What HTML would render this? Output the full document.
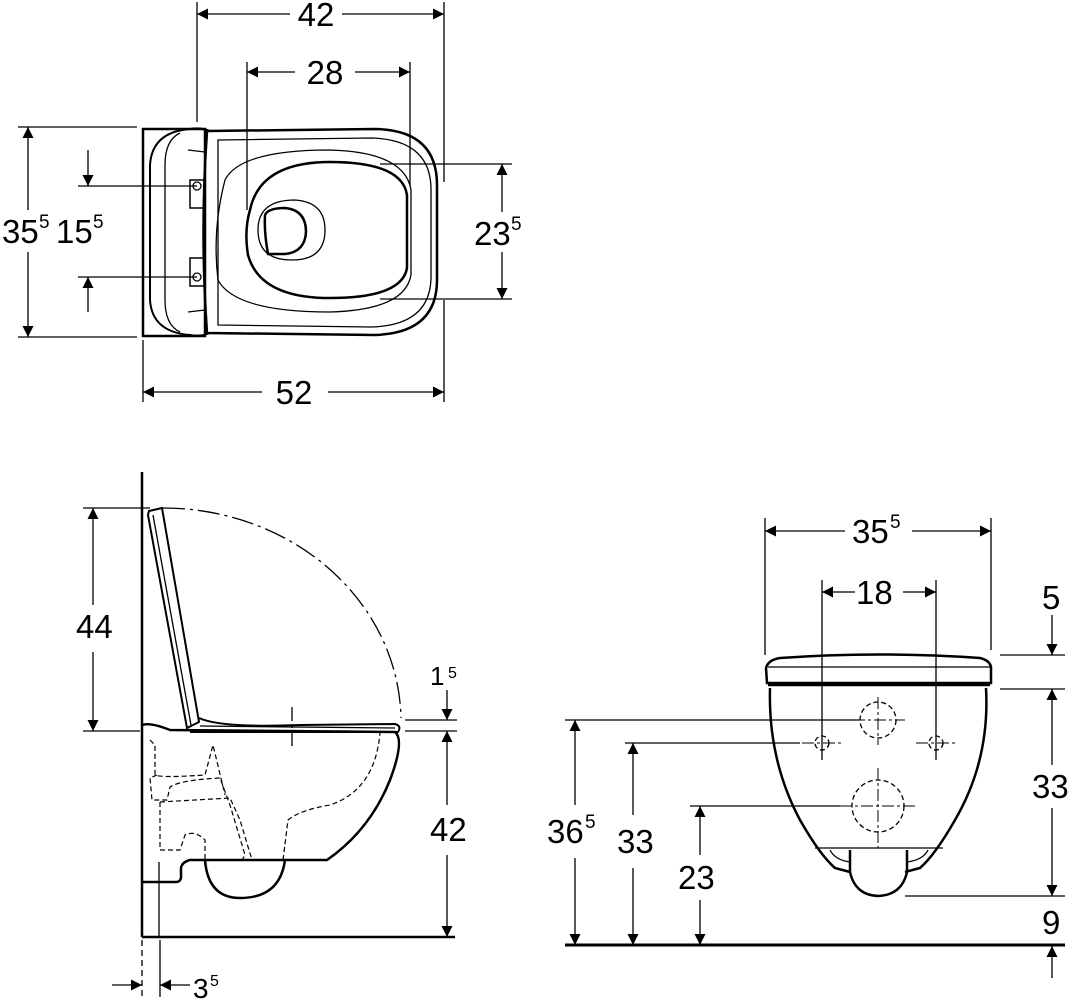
<!DOCTYPE html>
<html><head><meta charset="utf-8"><style>
html,body{margin:0;padding:0;background:#fff;}
svg{display:block;}
text{font-family:"Liberation Sans",Arial,sans-serif;fill:#000;}
.n{font-size:33px;}
.s{font-size:19px;}
</style></head><body>
<svg width="1075" height="1000" viewBox="0 0 1075 1000" xmlns="http://www.w3.org/2000/svg">
<defs>
<marker id="a" viewBox="0 0 10 10" refX="10" refY="5" markerWidth="11" markerHeight="11" markerUnits="userSpaceOnUse" orient="auto-start-reverse"><path d="M0,0 L10,5 L0,10 z" fill="#000"/></marker>
</defs>
<g stroke="#000" fill="none" stroke-width="1.3">
<!-- ===== TOP VIEW ===== -->
<!-- ext lines -->
<line x1="197" y1="2" x2="197" y2="122"/>
<line x1="444" y1="2" x2="444" y2="182"/>
<line x1="247" y1="62" x2="247" y2="210"/>
<line x1="410" y1="62" x2="410" y2="186"/>
<line x1="18" y1="127" x2="137" y2="127"/>
<line x1="18" y1="337" x2="137" y2="337"/>
<line x1="78" y1="186" x2="197" y2="186"/>
<line x1="78" y1="277" x2="197" y2="277"/>
<line x1="380" y1="164" x2="512" y2="164"/>
<line x1="380" y1="299" x2="512" y2="299"/>
<line x1="143" y1="340" x2="143" y2="402"/>
<line x1="444" y1="300" x2="444" y2="402"/>
<!-- dims -->
<line x1="197" y1="14" x2="290" y2="14" marker-start="url(#a)"/>
<line x1="342" y1="14" x2="444" y2="14" marker-end="url(#a)"/>
<line x1="247" y1="72" x2="295" y2="72" marker-start="url(#a)"/>
<line x1="355" y1="72" x2="410" y2="72" marker-end="url(#a)"/>
<line x1="28" y1="127" x2="28" y2="210" marker-start="url(#a)"/>
<line x1="28" y1="252" x2="28" y2="337" marker-end="url(#a)"/>
<line x1="88" y1="150" x2="88" y2="186" marker-end="url(#a)"/>
<line x1="88" y1="312" x2="88" y2="277" marker-end="url(#a)"/>
<line x1="502" y1="164" x2="502" y2="212" marker-start="url(#a)"/>
<line x1="502" y1="252" x2="502" y2="299" marker-end="url(#a)"/>
<line x1="143" y1="392" x2="262" y2="392" marker-start="url(#a)"/>
<line x1="328" y1="392" x2="444" y2="392" marker-end="url(#a)"/>
<!-- toilet top -->
<rect x="143" y="129" width="62" height="207" stroke-width="2.5"/>
<path d="M210 131 Q200 127 190 129 Q152 132 150 165 L150 300 Q152 332 190 335 Q200 337 210 333" stroke-width="2"/>
<path d="M180 133 Q165 140 165 165 L165 300 Q165 325 180 332"/>
<path d="M207 131 L375 129 Q437 130 437 185 L437 280 Q437 333 375 335 L207 333 Q200 232 207 131 Z" stroke-width="2.5"/>
<path d="M218 140 L372 138 Q430 140 431 188 L431 278 Q430 325 372 327 L218 325 Z"/>
<path d="M225 180 Q240 150 330 150 Q405 152 411 190 L411 275 Q405 310 330 312 Q235 312 218 280 Q212 230 225 180 Z"/>
<path d="M250 210 Q260 162 330 162 Q402 162 407 195 L407 268 Q402 298 330 298 Q260 298 248 255 Q244 230 250 210 Z" stroke-width="2.5"/>
<path d="M258 230 Q258 200 295 200 Q325 202 325 230 Q325 260 292 260 Q258 260 258 230 Z"/>
<path d="M265 215 Q268 208 285 208 Q306 210 306 232 Q305 252 285 254 L268 254 Q264 232 265 215 Z" stroke-width="2.5"/>
<rect x="190" y="180" width="15" height="28" stroke-width="1.5"/>
<rect x="190" y="258" width="15" height="28" stroke-width="1.5"/>
<circle cx="197" cy="186" r="4"/><circle cx="197" cy="277" r="4"/>
<path d="M188 150 L205 152 M188 312 L205 310"/>

<!-- ===== SIDE VIEW ===== -->
<line x1="142" y1="472" x2="142" y2="937" stroke-width="2.5"/>
<line x1="142" y1="937" x2="455" y2="937" stroke-width="2.5"/>
<line x1="83" y1="508" x2="150" y2="508"/>
<line x1="83" y1="731" x2="140" y2="731"/>
<line x1="405" y1="731" x2="457" y2="731"/>
<line x1="405" y1="720" x2="457" y2="720"/>
<line x1="93" y1="508" x2="93" y2="605" marker-start="url(#a)"/>
<line x1="93" y1="652" x2="93" y2="731" marker-end="url(#a)"/>
<line x1="447" y1="690" x2="447" y2="720" marker-end="url(#a)"/>
<line x1="447" y1="731" x2="447" y2="805" marker-start="url(#a)"/>
<line x1="447" y1="855" x2="447" y2="937" marker-end="url(#a)"/>
<line x1="160" y1="940" x2="160" y2="997"/>
<line x1="142" y1="940" x2="142" y2="997" stroke-dasharray="6 4"/>
<line x1="112" y1="985" x2="142" y2="985" marker-end="url(#a)"/>
<line x1="190" y1="985" x2="160" y2="985" marker-end="url(#a)"/>
<path d="M163 508 A238 214 0 0 1 401 718" stroke-dasharray="22 5 3 5"/>
<line x1="292" y1="707" x2="292" y2="748" stroke-dasharray="14 4 3 4"/>
<!-- lid -->
<path d="M148 515 L149 511 L162 508 L199 722 L187 728 Z" stroke-width="2"/>
<line x1="153" y1="515" x2="191" y2="725"/>
<!-- seat -->
<path d="M199 718 Q220 728 300 725 L395 724 Q402 726 398 732 L190 732" stroke-width="2"/>
<path d="M200 726 L395 728"/>
<!-- bowl -->
<path d="M142 725 Q150 722 170 730 L395 732 Q405 740 390 780 Q370 830 327 860 L190 860 Q182 862 181 868 L181 878 Q180 882 176 882 L142 882" stroke-width="2.5"/>
<path d="M205 860 Q208 898 240 898 Q280 898 285 860" stroke-width="2.5"/>
<g stroke-dasharray="5 3" stroke-width="1.2">
<path d="M150 740 L155 745 L155 775 Q160 778 205 775 L213 745 L225 795 M157 775 L150 778 L150 778 L152 800 L167 800 L170 787 Q180 780 220 778 L230 805 L245 855 L242 860"/>
<path d="M160 802 L230 798 L240 820 L252 860 M160 802 L160 850 L180 850 L185 835 Q195 830 205 840 L205 860"/>
<path d="M283 860 L288 820 Q300 810 330 805 Q375 790 380 733"/>
</g>
<line x1="159" y1="862" x2="159" y2="937"/>

<!-- ===== FRONT VIEW ===== -->
<line x1="565" y1="945" x2="1065" y2="945" stroke-width="3"/>
<line x1="765" y1="518" x2="765" y2="655"/>
<line x1="991" y1="518" x2="991" y2="650"/>
<line x1="822" y1="580" x2="822" y2="760"/>
<line x1="936" y1="580" x2="936" y2="760"/>
<line x1="765" y1="531" x2="845" y2="531" marker-start="url(#a)"/>
<line x1="912" y1="531" x2="991" y2="531" marker-end="url(#a)"/>
<line x1="822" y1="592" x2="855" y2="592" marker-start="url(#a)"/>
<line x1="903" y1="592" x2="936" y2="592" marker-end="url(#a)"/>
<line x1="1000" y1="655" x2="1065" y2="655"/>
<line x1="1000" y1="689" x2="1065" y2="689"/>
<line x1="905" y1="896" x2="1065" y2="896"/>
<line x1="1052" y1="615" x2="1052" y2="655" marker-end="url(#a)"/>
<line x1="1052" y1="689" x2="1052" y2="765" marker-start="url(#a)"/>
<line x1="1052" y1="808" x2="1052" y2="896" marker-end="url(#a)"/>
<line x1="1052" y1="978" x2="1052" y2="946" marker-end="url(#a)"/>
<line x1="565" y1="720" x2="860" y2="720"/>
<line x1="625" y1="743" x2="800" y2="743"/>
<line x1="690" y1="806" x2="840" y2="806"/>
<line x1="575" y1="720" x2="575" y2="805" marker-start="url(#a)"/>
<line x1="575" y1="858" x2="575" y2="945" marker-end="url(#a)"/>
<line x1="633" y1="743" x2="633" y2="815" marker-start="url(#a)"/>
<line x1="633" y1="868" x2="633" y2="945" marker-end="url(#a)"/>
<line x1="700" y1="806" x2="700" y2="855" marker-start="url(#a)"/>
<line x1="700" y1="900" x2="700" y2="945" marker-end="url(#a)"/>
<!-- seat/lid -->
<path d="M767 683 L766 668 Q768 660 780 658 Q878 651 980 658 Q992 661 991 670 L991 683 Z" stroke-width="2.5"/>
<line x1="768" y1="667" x2="990" y2="667"/>
<line x1="768" y1="685" x2="990" y2="685" stroke-width="2.5"/>
<path d="M770 688 Q768 760 800 820 Q820 855 835 868 L850 872 M986 688 Q990 760 955 820 Q935 855 920 868 L905 872" stroke-width="2.5"/>
<path d="M850 850 L850 872 Q855 895 878 896 Q902 895 907 872 L907 850" stroke-width="2.5"/>
<line x1="815" y1="848" x2="943" y2="848"/>
<path d="M830 850 Q835 860 850 862 M928 850 Q923 860 907 862"/>
<g stroke-dasharray="5 3">
<circle cx="878" cy="720" r="18"/>
<circle cx="822" cy="743" r="7"/>
<circle cx="936" cy="743" r="7"/>
<circle cx="878" cy="806" r="26"/>
</g>
<g stroke-dasharray="12 3 3 3" stroke-width="1">
<line x1="853" y1="720" x2="905" y2="720"/><line x1="878" y1="697" x2="878" y2="745"/>
<line x1="802" y1="743" x2="842" y2="743"/><line x1="916" y1="743" x2="956" y2="743"/>
<line x1="840" y1="806" x2="918" y2="806"/><line x1="878" y1="768" x2="878" y2="848"/>
</g>
</g>
<!-- ===== TEXT ===== -->
<text class="n" x="316" y="26" text-anchor="middle">42</text>
<text class="n" x="325" y="84" text-anchor="middle">28</text>
<text class="n" x="2" y="243">35</text><text class="s" x="39" y="228">5</text>
<text class="n" x="56" y="243">15</text><text class="s" x="93" y="228">5</text>
<text class="n" x="474" y="245">23</text><text class="s" x="511" y="230">5</text>
<text class="n" x="294" y="404" text-anchor="middle">52</text>
<text class="n" x="76" y="638">44</text>
<text class="n" x="430" y="841">42</text>
<text class="n" x="430" y="685" style="font-size:26px">1</text><text class="s" x="448" y="678" style="font-size:16px">5</text>
<text class="n" x="193" y="998" style="font-size:28px">3</text><text class="s" x="210" y="986" style="font-size:16px">5</text>
<text class="n" x="852" y="543">35</text><text class="s" x="890" y="528">5</text>
<text class="n" x="856" y="604">18</text>
<text class="n" x="1042" y="609">5</text>
<text class="n" x="1032" y="798">33</text>
<text class="n" x="1042" y="934">9</text>
<text class="n" x="547" y="843">36</text><text class="s" x="585" y="828">5</text>
<text class="n" x="617" y="853">33</text>
<text class="n" x="678" y="889">23</text>
</svg>
</body></html>
